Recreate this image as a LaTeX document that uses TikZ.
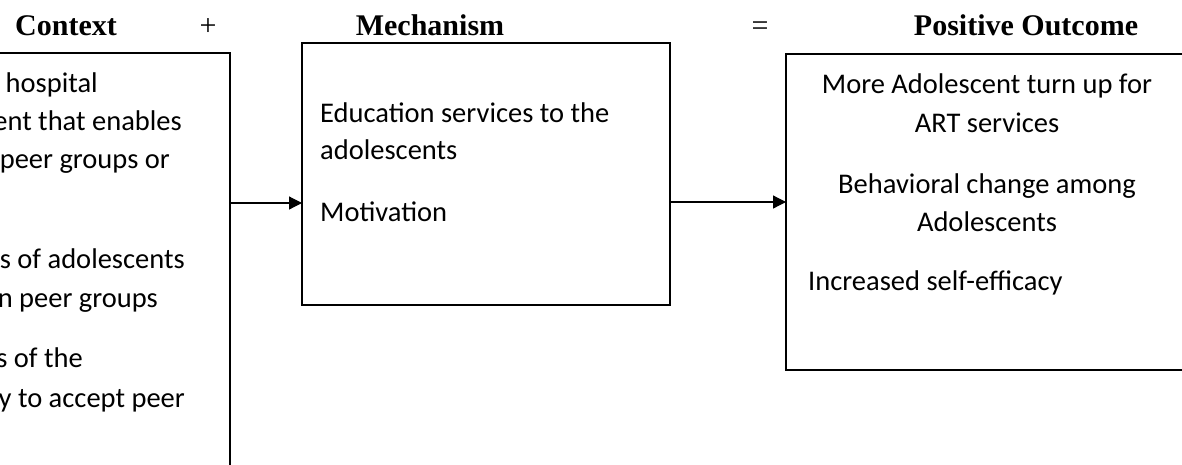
\documentclass[tikz,border=0pt]{standalone}
\usepackage{fontspec}
\setmainfont{Carlito}
\newfontfamily\headfont{Liberation Serif}
\usetikzlibrary{arrows.meta}

\begin{document}
\begin{tikzpicture}[x=1pt,y=-1pt,
  frame/.style={draw, line width=2pt, inner sep=0pt, outer sep=0pt},
  conn/.style={line width=1.2pt, -{Triangle[length=13pt,width=13pt]}},
  body/.style={font=\fontsize{28.5}{34}\selectfont, inner sep=0pt},
  head/.style={font=\headfont\bfseries\fontsize{30}{36}\selectfont, inner sep=0pt, anchor=base},
  sign/.style={font=\headfont\fontsize{30}{36}\selectfont, inner sep=0pt, anchor=base}]
\useasboundingbox (0,0) rectangle (1182,464);
\clip (0,0) rectangle (1182,464);

% column headings
\node[head] (hctx) at (66,35) {Context};
\node[sign] (hplus) at (208,35) {+};
\node[head] (hmech) at (430,35) {Mechanism};
\node[sign] (heq) at (760,35) {=};
\node[head] (hout) at (1026,35) {Positive Outcome};

% the three boxes
\node[frame, minimum width=310pt, minimum height=447pt] (ctx) at (75,276.5) {};
\node[frame, minimum width=368pt, minimum height=262pt] (mech) at (486,174) {};
\node[frame, minimum width=434pt, minimum height=316pt] (out) at (1003,212) {};

% context lines (left part runs past the page edge)
\node[body, anchor=base east] (c1) at (98,92) {hospital};
\node[body, anchor=base east] (c2) at (182,130) {ent that enables};
\node[body, anchor=base east] (c3) at (170,168) {peer groups or};
\node[body, anchor=base east] (c4) at (185,268) {s of adolescents};
\node[body, anchor=base east] (c5) at (158,307) {n peer groups};
\node[body, anchor=base east] (c6) at (83,367) {s of the};
\node[body, anchor=base east] (c7) at (185,407) {y to accept peer};

% mechanism lines
\node[body, anchor=base west] (m1) at (320,122) {Education services to the};
\node[body, anchor=base west] (m2) at (320,159) {adolescents};
\node[body, anchor=base west] (m3) at (320,221) {Motivation};

% outcome lines
\node[body, anchor=base] (o1) at (987,93) {More Adolescent turn up for};
\node[body, anchor=base] (o2) at (987,132) {ART services};
\node[body, anchor=base] (o3) at (987,193) {Behavioral change among};
\node[body, anchor=base] (o4) at (987,231) {Adolescents};
\node[body, anchor=base west] (o5) at (808,290) {Increased self-efficacy};

% connectors
\coordinate (r1) at (0,203);
\coordinate (r2) at (0,202);
\draw[conn] (ctx.east |- r1) -- (mech.west |- r1);
\draw[conn] (mech.east |- r2) -- (out.west |- r2);
\end{tikzpicture}
\end{document}
